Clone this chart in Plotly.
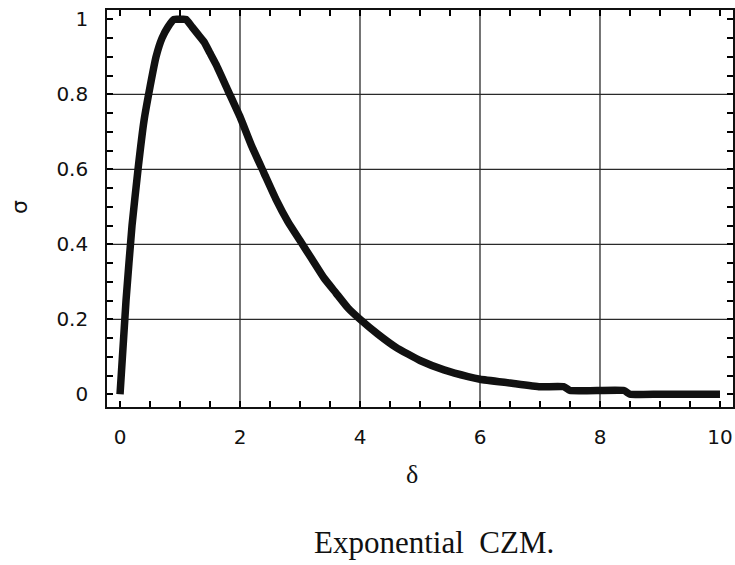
import plotly.graph_objects as go

# Traction-separation law of the exponential cohesive zone model
delta = [0.0, 0.1, 0.2, 0.3, 0.4, 0.5, 0.6, 0.7, 0.8, 0.9, 1.0, 1.1, 1.2, 1.3,
         1.4, 1.5, 1.6, 1.8, 2.0, 2.2, 2.4, 2.6, 2.8, 3.0, 3.2, 3.4, 3.6, 3.8,
         4.0, 4.3, 4.6, 5.0, 5.4, 5.8, 6.0, 6.5, 7.0, 7.4, 7.5, 8.4, 8.5, 9.0,
         10.0]
sigma = [0.00, 0.25, 0.45, 0.60, 0.73, 0.82, 0.90, 0.95, 0.98, 1.00, 1.00,
         1.00, 0.98, 0.96, 0.94, 0.91, 0.88, 0.81, 0.74, 0.66, 0.59, 0.52,
         0.46, 0.41, 0.36, 0.31, 0.27, 0.23, 0.20, 0.16, 0.125, 0.09, 0.065,
         0.047, 0.04, 0.03, 0.02, 0.02, 0.01, 0.01, 0.00, 0.00, 0.00]

# tick marks every half unit on δ and every 0.05 on σ; labels on the majors
x_ticks = [0, 0.5, 1, 1.5, 2, 2.5, 3, 3.5, 4, 4.5, 5, 5.5, 6, 6.5, 7, 7.5,
           8, 8.5, 9, 9.5, 10]
x_tick_text = ["0", "", "", "", "2", "", "", "", "4", "", "", "", "6", "", "",
               "", "8", "", "", "", "10"]
y_ticks = [0, 0.05, 0.1, 0.15, 0.2, 0.25, 0.3, 0.35, 0.4, 0.45, 0.5, 0.55,
           0.6, 0.65, 0.7, 0.75, 0.8, 0.85, 0.9, 0.95, 1]
y_tick_text = ["0", "", "", "", "0.2", "", "", "", "0.4", "", "", "", "0.6",
               "", "", "", "0.8", "", "", "", "1"]
x_grid = [2, 4, 6, 8]
y_grid = [0.2, 0.4, 0.6, 0.8]

fig = go.Figure()
fig.add_trace(go.Scatter(
    x=delta, y=sigma, mode="lines",
    line=dict(color="#111111", width=7.5, shape="spline", smoothing=0.4),
    hoverinfo="skip", showlegend=False,
))

grid_style = dict(color="#2a2a2a", width=1.3)
shapes = []
for gx in x_grid:
    shapes.append(dict(type="line", xref="x", yref="paper", x0=gx, x1=gx,
                       y0=0, y1=1, line=grid_style, layer="below"))
for gy in y_grid:
    shapes.append(dict(type="line", xref="paper", yref="y", x0=0, x1=1,
                       y0=gy, y1=gy, line=grid_style, layer="below"))

tick_font = dict(family="DejaVu Sans, Arial, sans-serif", size=20, color="#111111")

fig.update_layout(
    width=735, height=565,
    margin=dict(l=107, r=2, t=10, b=158, autoexpand=False),
    paper_bgcolor="white", plot_bgcolor="white",
    shapes=shapes,
    xaxis=dict(
        range=[-0.217, 10.217], tickmode="array", tickvals=x_ticks,
        ticktext=x_tick_text,
        ticks="inside", ticklen=6, tickwidth=1.5, tickcolor="black",
        showline=True, linecolor="#111111", linewidth=1.6, mirror="ticks",
        showgrid=False, zeroline=False, tickfont=tick_font,
        ticklabelstandoff=11,
    ),
    yaxis=dict(
        range=[-0.034, 1.025], tickmode="array", tickvals=y_ticks,
        ticktext=y_tick_text,
        ticks="inside", ticklen=6, tickwidth=1.5, tickcolor="black",
        showline=True, linecolor="#111111", linewidth=1.6, mirror="ticks",
        showgrid=False, zeroline=False, tickfont=tick_font,
        ticklabelstandoff=13,
    ),
    annotations=[
        dict(text="σ", xref="paper", yref="paper", x=-0.139, y=0.504,
             showarrow=False, textangle=-90, xanchor="center", yanchor="middle",
             font=dict(family="DejaVu Sans, Arial, sans-serif", size=22, color="#111111")),
        dict(text="δ", xref="paper", yref="paper", x=0.488, y=-0.171,
             showarrow=False, xanchor="center", yanchor="middle",
             font=dict(family="Liberation Serif, Times New Roman, serif", size=26, color="#111111")),
        dict(text="Exponential  CZM.", xref="paper", yref="paper", x=0.522, y=-0.342,
             showarrow=False, xanchor="center", yanchor="middle",
             font=dict(family="Liberation Serif, Times New Roman, serif", size=31, color="#111111")),
    ],
)

fig.write_html("out.html")
